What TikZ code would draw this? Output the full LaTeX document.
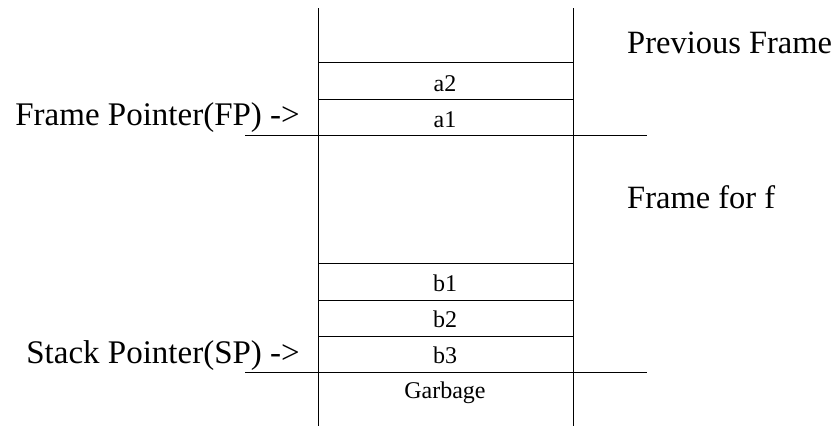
\documentclass[tikz,border=0pt]{standalone}
\usepackage{fontspec}
\setmainfont{Liberation Serif}

\begin{document}
\begin{tikzpicture}[x=1pt,y=-1pt]
    \tikzset{
      CellLabel/.style = { inner sep=0pt, anchor=base,
			  font = \fontsize{24}{28}\selectfont },
      SideLabel/.style = { inner sep=0pt, anchor=base west,
			  font = \fontsize{32.5}{38}\selectfont },
      PtrLabel/.style = { inner sep=0pt, anchor=base east,
			  font = \fontsize{33}{38}\selectfont },
      StackLine/.style = {line width=1pt} }
      \useasboundingbox (0,0) rectangle (840,426);

      % walls of the stack
      \coordinate (lt) at (318,8);
      \coordinate (lb) at (318,426);
      \coordinate (rt) at (573,8);
      \coordinate (rb) at (573,426);
      \draw[StackLine] (lt) -- (lb);
      \draw[StackLine] (rt) -- (rb);

      % cell borders
      \coordinate (l1) at (318,62.5);  \coordinate (r1) at (573,62.5);
      \coordinate (l2) at (318,99);    \coordinate (r2) at (573,99);
      \coordinate (l3) at (318,263.5); \coordinate (r3) at (573,263.5);
      \coordinate (l4) at (318,300);   \coordinate (r4) at (573,300);
      \coordinate (l5) at (318,336.5); \coordinate (r5) at (573,336.5);
      \draw[StackLine] (l1) -- (r1);
      \draw[StackLine] (l2) -- (r2);
      \draw[StackLine] (l3) -- (r3);
      \draw[StackLine] (l4) -- (r4);
      \draw[StackLine] (l5) -- (r5);

      % frame boundaries
      \coordinate (fpl) at (245,135);   \coordinate (fpr) at (647,135);
      \coordinate (spl) at (245,372.5); \coordinate (spr) at (647,372.5);
      \draw[StackLine] (fpl) -- (fpr);
      \draw[StackLine] (spl) -- (spr);

      \node[CellLabel] (a2) at (445,91.5) {a2};
      \node[CellLabel] (a1) at (445,127.5) {a1};
      \node[CellLabel] (b1) at (445,291.5) {b1};
      \node[CellLabel] (b2) at (445,327) {b2};
      \node[CellLabel] (b3) at (445,363.5) {b3};
      \node[CellLabel] (garbage) at (445,398) {Garbage};

      \node[PtrLabel] (fp) at (300,125) {Frame Pointer(FP) ->};
      \node[PtrLabel] (sp) at (300,363) {Stack Pointer(SP) ->};

      \node[SideLabel] (prev) at (627,53) {Previous Frame};
      \node[SideLabel] (curr) at (627,208) {Frame for f};
%     
\end{tikzpicture}
\end{document}
